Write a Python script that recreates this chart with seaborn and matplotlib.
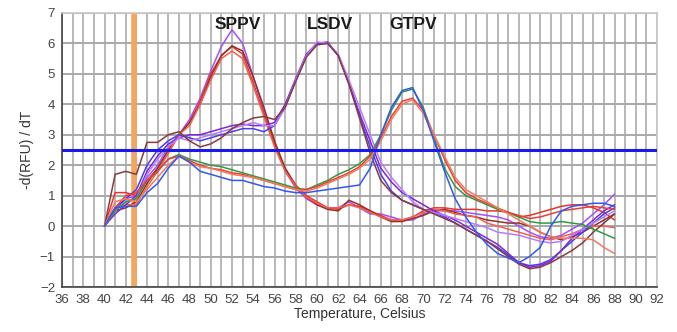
import numpy as np
import pandas as pd
import matplotlib
matplotlib.use("Agg")
import matplotlib.pyplot as plt
import seaborn as sns

# temperatures (1 degree steps)
temps = list(range(40, 89))

# SPPV group
sppv_purple = [0.0, 0.5, 0.9, 1.0, 1.6, 2.0, 2.6, 3.0, 3.5, 4.2, 5.1, 5.9, 6.45, 6.0, 4.9, 3.8, 2.7, 1.8, 1.25, 0.9,
               0.7, 0.6, 0.6, 0.8, 0.6, 0.4, 0.4, 0.3, 0.2, 0.2, 0.4, 0.5, 0.5, 0.5, 0.45, 0.4, 0.35, 0.3, 0.2, 0.0,
               -0.2, -0.35, -0.4, -0.3, -0.1, 0.1, 0.4, 0.7, 1.05]
sppv_red = [0.0, 1.1, 1.1, 1.0, 1.5, 1.9, 2.4, 3.0, 3.4, 4.1, 5.0, 5.6, 5.9, 5.65, 4.7, 3.7, 2.7, 1.9, 1.35, 1.0,
            0.8, 0.6, 0.55, 0.7, 0.65, 0.5, 0.35, 0.2, 0.2, 0.3, 0.5, 0.6, 0.6, 0.55, 0.55, 0.55, 0.5, 0.5, 0.45, 0.3,
            0.35, 0.45, 0.55, 0.65, 0.7, 0.7, 0.6, 0.45, 0.2]
sppv_brown = [0.0, 0.5, 0.6, 0.8, 1.4, 1.9, 2.5, 3.0, 3.4, 4.0, 4.9, 5.6, 5.92, 5.75, 4.9, 3.9, 2.8, 1.9, 1.3, 0.95,
              0.7, 0.55, 0.5, 0.85, 0.7, 0.5, 0.3, 0.15, 0.15, 0.25, 0.35, 0.5, 0.55, 0.45, 0.35, 0.3, 0.2, 0.15, 0.1, 0.1,
              0.0, -0.2, -0.35, -0.45, -0.35, -0.2, 0.0, 0.2, 0.4]
sppv_orange = [0.0, 0.6, 0.7, 0.7, 1.3, 1.8, 2.4, 3.0, 3.3, 4.0, 4.8, 5.5, 5.75, 5.5, 4.6, 3.6, 2.6, 1.8, 1.3, 0.95,
               0.75, 0.6, 0.6, 0.7, 0.6, 0.45, 0.3, 0.2, 0.2, 0.3, 0.45, 0.55, 0.5, 0.4, 0.35, 0.3, 0.1, 0.0, -0.1, -0.2,
               -0.3, -0.4, -0.45, -0.35, -0.25, -0.1, 0.0, 0.0, -0.05]

# LSDV group
lsdv_blue = [0.0, 0.6, 0.9, 1.2, 2.0, 2.5, 2.8, 3.0, 2.9, 2.8, 2.9, 3.0, 3.1, 3.2, 3.2, 3.1, 3.3, 3.9, 4.8, 5.6,
             6.0, 6.05, 5.6, 4.7, 3.6, 2.6, 1.7, 1.15, 0.85, 0.7, 0.55, 0.45, 0.3, 0.1, -0.1, -0.3, -0.5, -0.7, -0.95, -1.2,
             -1.3, -1.25, -1.1, -0.8, -0.5, -0.2, 0.1, 0.4, 0.6]
lsdv_purple = [0.0, 0.4, 0.7, 1.0, 1.8, 2.3, 2.7, 2.9, 3.0, 3.0, 3.1, 3.2, 3.3, 3.35, 3.3, 3.3, 3.4, 4.0, 4.85, 5.65,
               6.0, 6.0, 5.6, 4.7, 3.7, 2.8, 1.9, 1.45, 1.1, 0.9, 0.7, 0.5, 0.35, 0.2, 0.0, -0.2, -0.4, -0.6, -0.9, -1.2,
               -1.35, -1.3, -1.15, -0.8, -0.4, -0.1, 0.2, 0.5, 0.7]
lsdv_violet = [0.0, 0.5, 0.8, 0.9, 1.7, 2.2, 2.6, 2.9, 2.8, 2.9, 3.0, 3.1, 3.2, 3.3, 3.4, 3.3, 3.3, 3.9, 4.8, 5.6,
               6.05, 6.0, 5.65, 4.8, 3.9, 3.0, 2.1, 1.6, 1.2, 0.8, 0.55, 0.45, 0.35, 0.25, 0.15, 0.05, -0.05, -0.2, -0.25, -0.3,
               -0.4, -0.5, -0.55, -0.5, -0.3, -0.1, 0.1, 0.3, 0.5]
lsdv_brown = [0.0, 1.7, 1.8, 1.7, 2.75, 2.75, 3.0, 3.1, 2.8, 2.6, 2.7, 2.9, 3.2, 3.4, 3.55, 3.6, 3.5, 3.9, 4.75, 5.55,
              5.95, 6.0, 5.6, 4.65, 3.55, 2.4, 1.5, 1.1, 0.85, 0.7, 0.55, 0.4, 0.25, 0.1, -0.1, -0.3, -0.5, -0.75, -1.0, -1.25,
              -1.4, -1.35, -1.2, -1.0, -0.8, -0.55, -0.2, 0.1, 0.4]

# GTPV group
gtpv_blue = [0.0, 0.6, 0.65, 0.65, 1.1, 1.4, 1.9, 2.3, 2.1, 1.8, 1.7, 1.6, 1.5, 1.5, 1.4, 1.3, 1.25, 1.15, 1.1, 1.1,
             1.15, 1.2, 1.25, 1.3, 1.35, 1.9, 3.0, 3.9, 4.45, 4.55, 3.8, 2.8, 1.8, 0.9, 0.3, -0.2, -0.6, -0.9, -1.05, -1.2,
             -1.0, -0.7, 0.0, 0.5, 0.65, 0.7, 0.75, 0.75, 0.65]
gtpv_green = [0.0, 0.5, 0.8, 0.9, 1.5, 1.8, 2.2, 2.35, 2.2, 2.1, 2.0, 1.95, 1.85, 1.75, 1.65, 1.55, 1.45, 1.35, 1.25, 1.2,
              1.35, 1.5, 1.7, 1.85, 2.05, 2.35, 3.0, 3.8, 4.4, 4.5, 3.9, 2.9, 1.9, 1.3, 1.0, 0.85, 0.7, 0.55, 0.45, 0.3,
              0.15, 0.1, 0.1, 0.15, 0.1, 0.05, -0.1, -0.25, -0.4]
gtpv_red = [0.0, 0.6, 1.0, 1.1, 1.5, 1.8, 2.2, 2.3, 2.15, 2.0, 1.9, 1.85, 1.75, 1.7, 1.6, 1.5, 1.4, 1.3, 1.2, 1.2,
            1.3, 1.45, 1.6, 1.75, 1.95, 2.3, 2.9, 3.6, 4.1, 4.2, 3.8, 3.0, 2.2, 1.5, 1.1, 0.9, 0.75, 0.6, 0.45, 0.35,
            0.25, 0.3, 0.4, 0.5, 0.55, 0.6, 0.65, 0.6, 0.55]
gtpv_orange = [0.0, 0.8, 0.9, 0.8, 1.2, 1.6, 2.0, 2.3, 2.1, 1.95, 1.9, 1.8, 1.7, 1.65, 1.6, 1.5, 1.4, 1.3, 1.2, 1.15,
               1.25, 1.4, 1.55, 1.7, 1.9, 2.2, 2.8, 3.5, 4.0, 4.15, 3.7, 3.0, 2.3, 1.6, 1.2, 1.0, 0.8, 0.6, 0.4, 0.2,
               0.0, -0.2, -0.35, -0.4, -0.4, -0.4, -0.45, -0.7, -0.9]

curves = {
    "sppv_purple": (sppv_purple, "#a050ff"),
    "sppv_red": (sppv_red, "#e8352e"),
    "sppv_brown": (sppv_brown, "#93302a"),
    "sppv_orange": (sppv_orange, "#f2604a"),
    "lsdv_blue": (lsdv_blue, "#4a3cf0"),
    "lsdv_purple": (lsdv_purple, "#7a28d8"),
    "lsdv_violet": (lsdv_violet, "#b57cff"),
    "lsdv_brown": (lsdv_brown, "#8a3a3a"),
    "gtpv_green": (gtpv_green, "#2f9a45"),
    "gtpv_red": (gtpv_red, "#e84038"),
    "gtpv_orange": (gtpv_orange, "#f57a5a"),
    "gtpv_blue": (gtpv_blue, "#3058f0"),
}

frames = []
for name, (vals, col) in curves.items():
    frames.append(pd.DataFrame({"T": temps, "v": vals, "curve": name}))
df = pd.concat(frames, ignore_index=True)
palette = {name: col for name, (vals, col) in curves.items()}

threshold = 2.5
cursor_t = 42.8
peak_labels = ["SPPV", "LSDV", "GTPV"]
peak_pos = [52.5, 61.2, 69.0]

sns.set_style("white")
plt.rcParams['font.family'] = ['Liberation Sans', 'DejaVu Sans']

fig = plt.figure(figsize=(6.77, 3.32), dpi=100)
ax = fig.add_axes([0.0916, 0.1355, 0.8789, 0.8255])

# grid
for t in range(36, 93):
    ax.axvline(t, color="#b8b8b8", lw=1.4, zorder=0)
for yv in range(-2, 8):
    ax.axhline(yv, color="#a8a8a8", lw=1.4, zorder=0)

ax.axvline(cursor_t, color="#f4a55e", lw=4, zorder=1)

sns.lineplot(data=df, x="T", y="v", hue="curve", palette=palette, legend=False,
             lw=1.1, ax=ax, zorder=3)

ax.axhline(threshold, color="#1a1ae6", lw=2.2, zorder=4)

for lab, xp in zip(peak_labels, peak_pos):
    ax.text(xp, 6.62, lab, ha="center", va="center", fontsize=12.5, fontweight="bold", color="#1a1a1a")

ax.set_xlim(36, 92)
ax.set_ylim(-2, 7)
ax.set_xticks(range(36, 93, 2))
ax.set_xticks(range(36, 93), minor=True)
ax.set_yticks(range(-2, 8))
ax.tick_params(axis="both", which="both", direction="inout", length=4, width=1, color="#333333",
               labelsize=9.5, labelcolor="#444444", pad=3)
ax.set_xlabel("Temperature, Celsius", fontsize=10, color="#333333", labelpad=1)
ax.set_ylabel("-d(RFU) / dT", fontsize=10, color="#333333", labelpad=4)

for side in ["top", "right"]:
    ax.spines[side].set_color("#c8c8c8")
    ax.spines[side].set_linewidth(1.2)
for side in ["left", "bottom"]:
    ax.spines[side].set_color("#444444")
    ax.spines[side].set_linewidth(1.2)

fig.savefig("out.png", dpi=100)
